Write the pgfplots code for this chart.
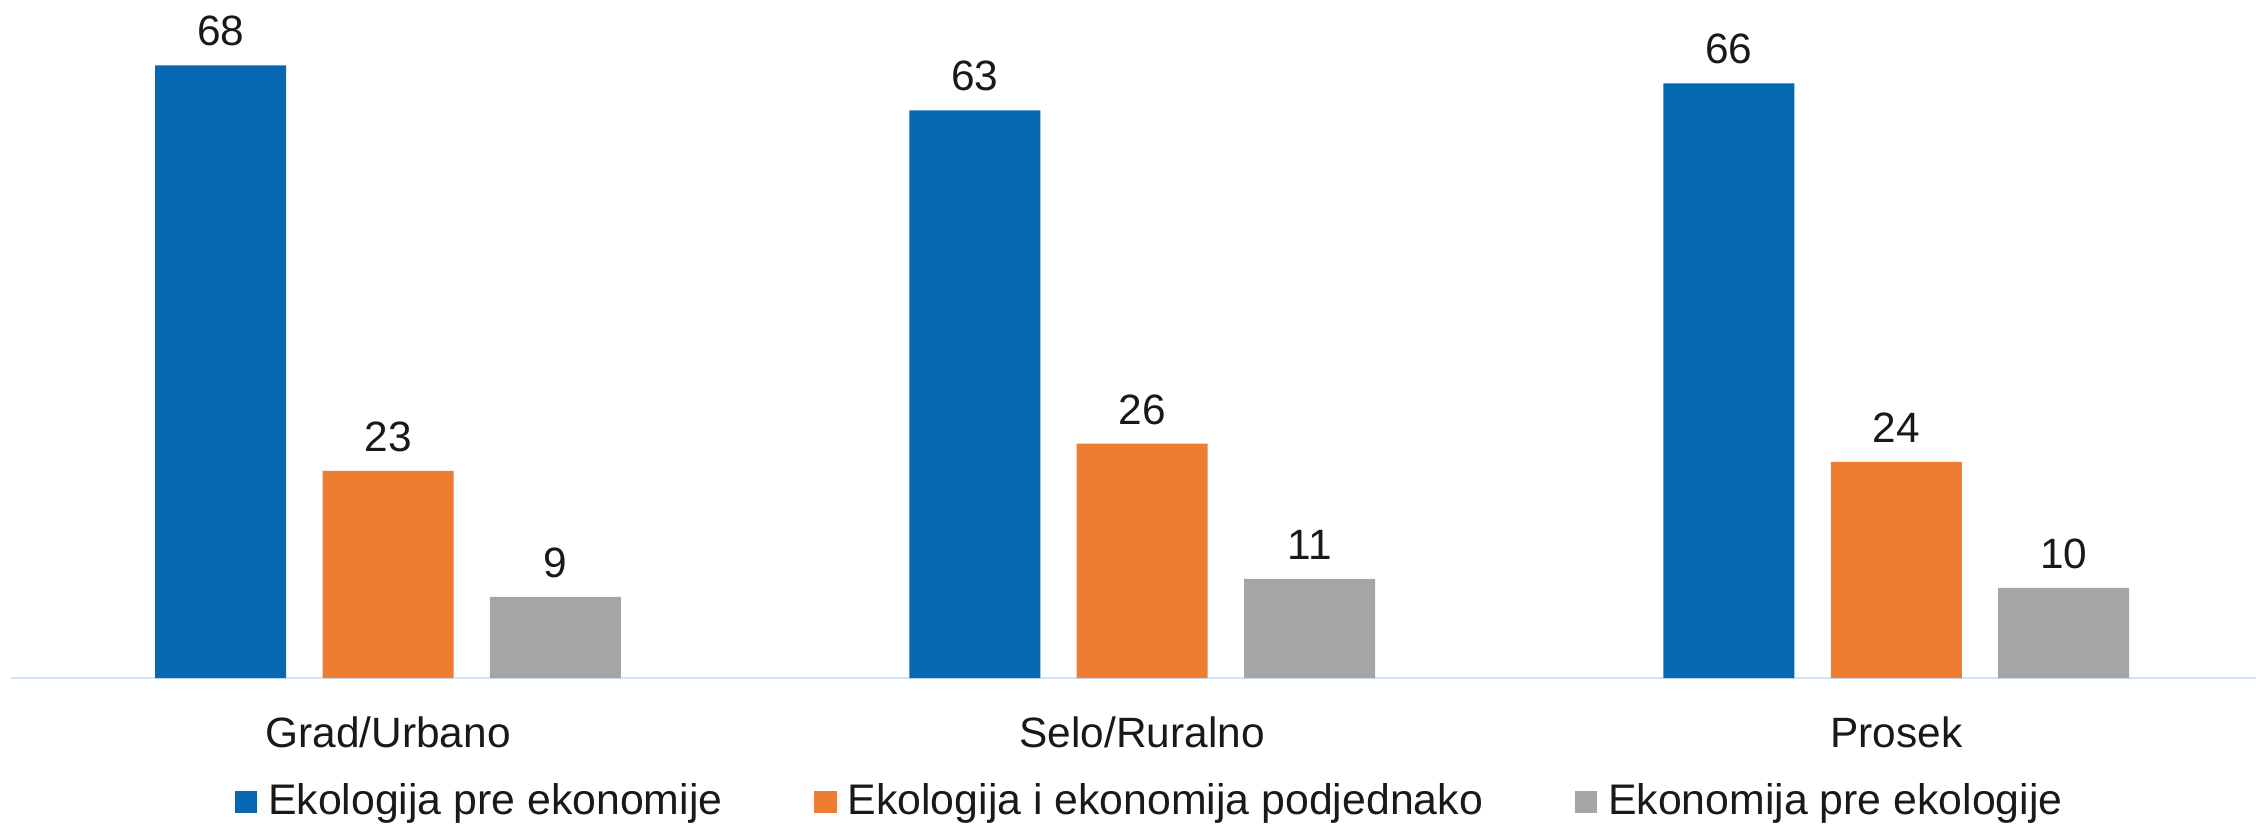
\documentclass[border=0pt]{standalone}
\usepackage{fontspec}
\setmainfont{Liberation Sans}
\usepackage{pgfplots}
\pgfplotsset{compat=1.18}
\definecolor{cblue}{RGB}{5,104,176}
\definecolor{corange}{RGB}{237,125,49}
\definecolor{cgray}{RGB}{165,165,165}
\definecolor{caxis}{RGB}{208,228,246}
\begin{document}
\begin{tikzpicture}
\begin{axis}[
  at={(0,0)}, anchor=south west,
  scale only axis,
  width=561.25pt, height=169.5pt,
  xmin=-0.5, xmax=2.477,
  ymin=0, ymax=75.25,
  ybar=9.1pt, bar width=32.75pt,
  axis y line=none,
  axis x line*=bottom,
  x axis line style={draw=caxis, line width=0.7pt},
  xtick={0,1,2},
  xticklabels={Grad/Urbano, Selo/Ruralno, Prosek},
  xtick style={draw=none},
  ytick=\empty,
  xticklabel style={anchor=base, yshift=-13.2pt, font=\fontsize{10.6}{12.7}\selectfont, text=black!90},
  /pgf/number format/assume math mode=true,
  nodes near coords,
  every node near coord/.append style={anchor=base, yshift=4.9pt, font=\fontsize{10.6}{12.7}\selectfont, text=black!90},
  legend columns=3,
  legend style={draw=none, at={(0.5085,-0.183)}, anchor=center, font=\fontsize{10.7}{12.7}\selectfont, text=black!90,
    /tikz/every even column/.append style={column sep=20.9pt}},
  legend cell align=left,
  legend image code/.code={\fill[#1] (0pt,-2.8pt) rectangle (5.6pt,2.8pt); \path (6.4pt,0pt);},
]
\addplot[fill=cblue, draw=none] coordinates {(0,68) (1,63) (2,66)};
\addplot[fill=corange, draw=none] coordinates {(0,23) (1,26) (2,24)};
\addplot[fill=cgray, draw=none] coordinates {(0,9) (1,11) (2,10)};
\legend{Ekologija pre ekonomije, Ekologija i ekonomija podjednako, Ekonomija pre ekologije}
\end{axis}
\pgfresetboundingbox
\path (-2.75pt,-36.75pt) rectangle (561.25pt,169.5pt);
\end{tikzpicture}
\end{document}
